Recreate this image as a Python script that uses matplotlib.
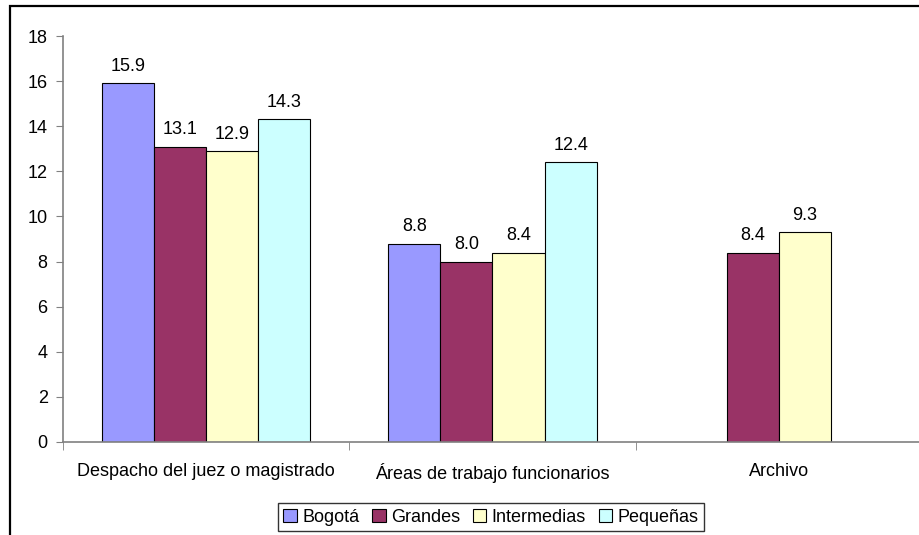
import numpy as np
import matplotlib
matplotlib.use("Agg")
import matplotlib.pyplot as plt
from matplotlib.patches import Rectangle

plt.rcParams['font.family'] = ['Liberation Sans', 'DejaVu Sans']

categories = ["Despacho del juez o magistrado", "Áreas de trabajo funcionarios", "Archivo"]
series_names = ["Bogotá", "Grandes", "Intermedias", "Pequeñas"]
bogota = [15.9, 8.8, np.nan]
grandes = [13.1, 8.0, 8.4]
intermedias = [12.9, 8.4, 9.3]
pequenas = [14.3, 12.4, np.nan]
yticks = [0, 2, 4, 6, 8, 10, 12, 14, 16, 18]

colors = ["#9999FF", "#993366", "#FFFFCC", "#CCFFFF"]
series = [bogota, grandes, intermedias, pequenas]

FS = 13
W, H = 920, 535
fig = plt.figure(figsize=(W / 100, H / 100), dpi=100)

# outer chart frame
fig.patches.append(Rectangle((10 / W, -0.1), 1.2, (H - 6) / H + 0.1,
                             transform=fig.transFigure, fill=False,
                             edgecolor="black", linewidth=1.6, zorder=0))

ax = fig.add_axes([63 / W, (H - 442) / H, (922 - 63) / W, (442 - 36) / H])

x = np.arange(len(categories))
bw = 0.182
offsets = (np.arange(4) - 1.5) * bw
for vals, off, col, name in zip(series, offsets, colors, series_names):
    v = np.array(vals, dtype=float)
    ax.bar(x + off, v, width=bw, color=col, edgecolor="black",
           linewidth=0.8, label=name, zorder=2)
    for xi, vi in zip(x + off, v):
        if not np.isnan(vi):
            ax.annotate(f"{vi:.1f}", (xi, vi), xytext=(0, 6),
                        textcoords="offset points", ha="center", va="bottom",
                        fontsize=FS)

ax.set_xlim(-0.5, len(categories) - 0.5)
ax.set_ylim(0, 18)
ax.set_yticks(yticks)
ax.tick_params(axis="y", labelsize=FS, direction="out", length=5,
               color="#808080", pad=6)

ax.set_xticks(x)
ax.set_xticklabels(categories, fontsize=FS)
ax.set_xticks(np.arange(len(categories) + 1) - 0.5, minor=True)
ax.tick_params(axis="x", which="major", length=0, pad=15)
ax.tick_params(axis="x", which="minor", length=6, direction="out",
               color="#808080")

for side in ["top", "right"]:
    ax.spines[side].set_visible(False)
for side in ["left", "bottom"]:
    ax.spines[side].set_color("#808080")
    ax.spines[side].set_linewidth(1.2)
ax.patch.set_alpha(0)

leg = fig.legend(loc="center", bbox_to_anchor=(491 / W, (H - 517) / H),
                 ncol=4, fontsize=FS, frameon=True, fancybox=False,
                 edgecolor="black", handlelength=0.75, handleheight=0.75,
                 handletextpad=0.3, columnspacing=0.7, borderpad=0.3,
                 borderaxespad=0)
leg.get_frame().set_linewidth(1.0)

fig.savefig("out.png", dpi=100)
